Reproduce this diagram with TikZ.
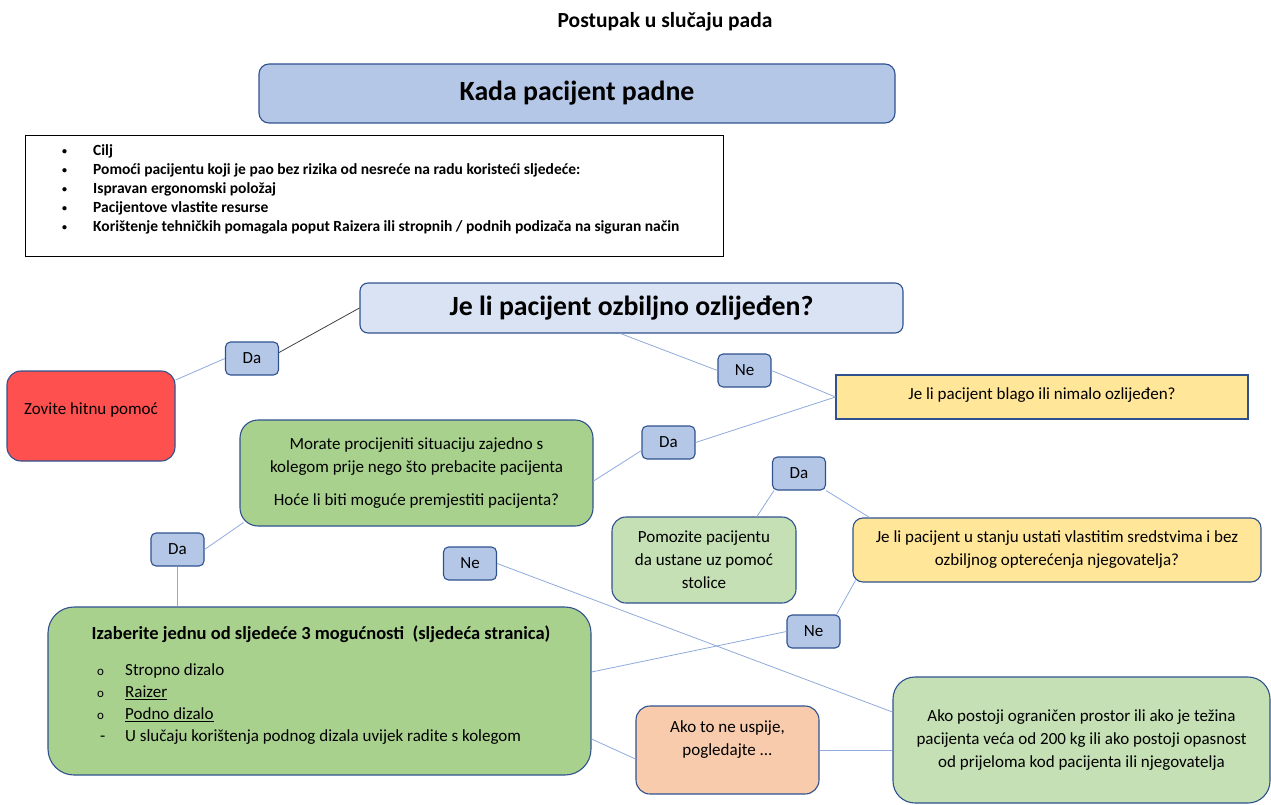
\documentclass[tikz,border=0pt]{standalone}
\usepackage{fontspec}
\setmainfont{Carlito}
\usetikzlibrary{calc}

\definecolor{edgeblue}{HTML}{2F528F}
\definecolor{linkblue}{HTML}{8FAADC}
\definecolor{linkdark}{HTML}{404040}
\definecolor{qblue}{HTML}{B4C7E7}
\definecolor{qlight}{HTML}{DAE3F3}
\definecolor{alarm}{HTML}{FF5050}
\definecolor{greendark}{HTML}{A9D18E}
\definecolor{greenlight}{HTML}{C5E0B4}
\definecolor{yellowq}{HTML}{FFE699}
\definecolor{peach}{HTML}{F8CBAD}

\newcommand{\goalmark}{\makebox[31pt][l]{\fontsize{10}{10}\selectfont\raisebox{1pt}{•}}}
\newcommand{\itemmark}{\makebox[28pt][l]{\fontsize{13}{13}\selectfont o}}

\tikzset{
  panel/.style={draw=edgeblue, line width=1.1pt, inner sep=0pt, align=center,
    font=\fontsize{17}{23}\selectfont},
  answer/.style={panel, fill=qblue, rounded corners=5pt, minimum width=53, minimum height=33},
  link/.style={draw=linkblue, line width=0.8pt},
  linkstrong/.style={draw=linkdark, line width=0.8pt},
}

\begin{document}
\begin{tikzpicture}[x=1pt, y=-1pt]
\useasboundingbox (0,0) rectangle (1271,805);

% heading
\node[font=\fontsize{21.5}{26}\selectfont\bfseries] (title) at (665,22) {Postupak u slučaju pada};

\node[panel, fill=qblue, rounded corners=10pt, minimum width=636, minimum height=59,
      font=\fontsize{27.8}{32}\selectfont\bfseries] (fall) at (577,93.5) {Kada pacijent padne};

% goals (the base anchor sits on the last line)
\node[draw=black, line width=0.9pt, minimum width=698, minimum height=121, inner sep=0pt]
  (goals) at (374,195.5) {};
\node[anchor=base west, inner sep=0pt, align=left,
      font=\fontsize{15.5}{19}\selectfont\bfseries] (goaltext) at (62,231)
  {\goalmark Cilj\\
   \goalmark Pomoći pacijentu koji je pao bez rizika od nesreće na radu koristeći sljedeće:\\
   \goalmark Ispravan ergonomski položaj\\
   \goalmark Pacijentove vlastite resurse\\
   \goalmark Korištenje tehničkih pomagala poput Raizera ili stropnih / podnih podizača na siguran način};

% first question
\node[panel, fill=qlight, rounded corners=8pt, minimum width=543, minimum height=50,
      font=\fontsize{27.8}{32}\selectfont\bfseries] (q1) at (631.5,308) {Je li pacijent ozbiljno ozlijeđen?};

\node[answer] (da1) at (252,358.5) {Da};
\node[panel, fill=alarm, rounded corners=14pt, minimum width=168, minimum height=90] (call) at (91,416)
  {\raisebox{6pt}[\height][\depth]{Zovite hitnu pomoć}};
\node[answer] (ne1) at (744.5,370.5) {Ne};

\node[panel, fill=yellowq, minimum width=412, minimum height=44] (q2) at (1042,397)
  {\raisebox{2pt}[\height][\depth]{Je li pacijent blago ili nimalo ozlijeđen?}};
\node[answer] (da2) at (668.5,442.5) {Da};

\node[panel, fill=greendark, rounded corners=18pt, minimum width=353, minimum height=106] (assess) at (416.5,473)
  {Morate procijeniti situaciju zajedno s\\kolegom prije nego što prebacite pacijenta\\[10pt]Hoće li biti moguće premjestiti pacijenta?};

\node[answer] (da3) at (799,473.5) {Da};
\node[panel, fill=greenlight, rounded corners=14pt, minimum width=184, minimum height=86] (chair) at (704,560)
  {Pomozite pacijentu\\da ustane uz pomoć\\stolice};
\node[panel, fill=yellowq, rounded corners=10pt, minimum width=408, minimum height=64] (q3) at (1057,550)
  {Je li pacijent u stanju ustati vlastitim sredstvima i bez\\ozbiljnog opterećenja njegovatelja?};

\node[answer] (da4) at (177.5,549.5) {Da};
\node[answer] (ne2) at (470,563.5) {Ne};
\node[answer] (ne3) at (813.5,631.5) {Ne};

% lifting options
\node[panel, fill=greendark, rounded corners=26pt, minimum width=543, minimum height=168] (lift) at (319.5,691) {};
\node[font=\fontsize{18.5}{22}\selectfont\bfseries] (lifthead) at (321,634)
  {Izaberite jednu od sljedeće 3 mogućnosti\ \ (sljedeća stranica)};
\node[anchor=base west, inner sep=0pt, align=left, font=\fontsize{17}{22}\selectfont] (liftitems) at (97,741.5)
  {\itemmark Stropno dizalo\\
   \itemmark\underline{Raizer}\\
   \itemmark\underline{Podno dizalo}\\
   \makebox[28pt][l]{\,-}U slučaju korištenja podnog dizala uvijek radite s kolegom};

\node[panel, fill=peach, rounded corners=14pt, minimum width=183, minimum height=88] (fail) at (727.5,750)
  {Ako to ne uspije,\\pogledajte ...\\\mbox{}};
\node[panel, fill=greenlight, rounded corners=22pt, minimum width=377, minimum height=126] (risk) at (1081.5,740)
  {Ako postoji ograničen prostor ili ako je težina\\pacijenta veća od 200 kg ili ako postoji opasnost\\od prijeloma kod pacijenta ili njegovatelja};

% connectors
\path[linkstrong] ($(da1.east)+(0,-6)$) -- (q1.west);
\path[link] ($(call.east)+(0,-36)$) -- (da1.west);
\path[link] ($(q1.south)+(-11,0)$) -- (ne1.west);
\path[link] (ne1.east) -- (q2.west);
\path[link] (q2.west) -- (da2.east);
\path[link] ($(da2.west)+(0,8)$) -- ($(assess.east)+(0,8)$);
\path[link] (da4.east) -- ($(assess.south west)+(4,-4)$);
\path[link] (da4.south) -- (da4.south |- lift.north);
\path[link] ($(ne2.north)+(-2,0)$) -- ($(ne2.north)+(-2,0)$ |- assess.south);
\path[link] (ne2.east) -- ($(risk.west)+(0,-28)$);
\path[link] (da3.south east) -- ($(q3.north west)+(17,0)$);
\path[link] ($(da3.south west)+(2,0)$) -- ($(chair.north)+(53,0)$);
\path[link] ($(q3.south west)+(3,-2)$) -- ($(ne3.north east)+(-4,0)$);
\path[link] (ne3.west) -- ($(lift.east)+(0,-19)$);
\path[link] ($(lift.east)+(0,48)$) -- ($(fail.west)+(0,9)$);
\path[link] (fail.east) -- (fail.east -| risk.west);
\end{tikzpicture}
\end{document}
